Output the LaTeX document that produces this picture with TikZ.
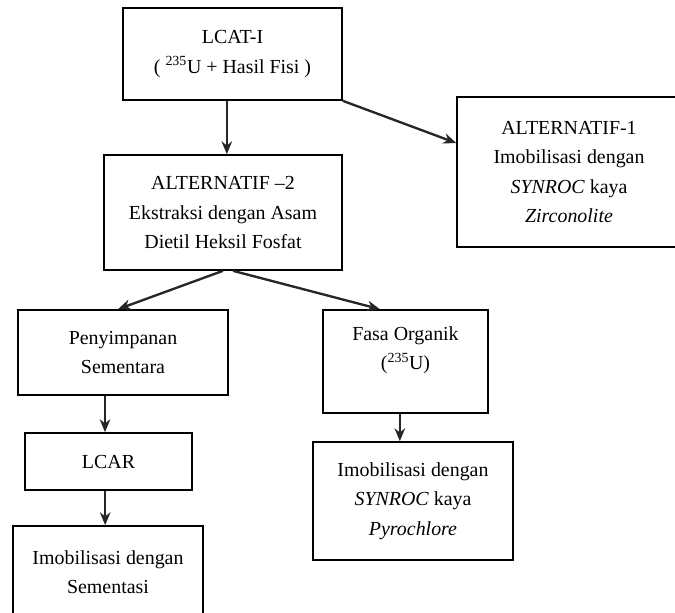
\documentclass[tikz,border=0pt]{standalone}
\usepackage{fontspec}
\setmainfont{Liberation Serif}
\usetikzlibrary{arrows.meta}

\begin{document}
\begin{tikzpicture}[x=0.03cm, y=-0.03cm,
        kotak/.style={draw, line width=1.4pt, align=center, inner sep=2pt,
            font=\fontsize{17}{25}\selectfont},
        panah/.style={-{Stealth[length=11pt, width=9pt]}, line width=2pt, black!85}]
        \useasboundingbox (0, 0) rectangle (675, 612);

        \node (lcat) at (232.5, 54) [kotak, minimum width=6.57cm, minimum height=2.76cm] {LCAT-I\\( \textsuperscript{235}U + Hasil Fisi )};
        \node (alt1) at (569, 172) [kotak, minimum width=6.72cm, minimum height=4.5cm] {ALTERNATIF-1\\Imobilisasi dengan\\\textit{SYNROC} kaya\\\textit{Zirconolite}};
        \node (alt2) at (223, 212.5) [kotak, minimum width=7.14cm, minimum height=3.45cm] {ALTERNATIF --2\\Ekstraksi dengan Asam\\Dietil Heksil Fosfat};

        \node (peny) at (123, 352.5) [kotak, minimum width=6.3cm, minimum height=2.55cm] {Penyimpanan\\Sementara};
        \node (fasa) at (405.5, 361.5) [kotak, minimum width=4.95cm, minimum height=3.09cm, text depth=0.8cm] {Fasa Organik\\(\textsuperscript{235}U)};
        \node (lcar) at (108.5, 461.5) [kotak, minimum width=5.01cm, minimum height=1.71cm] {LCAR};
        \node (imsem) at (108, 572) [kotak, minimum width=5.7cm, minimum height=2.76cm] {Imobilisasi dengan\\Sementasi};
        \node (pyro) at (413, 501) [kotak, minimum width=6cm, minimum height=3.54cm] {Imobilisasi dengan\\\textit{SYNROC} kaya\\\textit{Pyrochlore}};

        \draw[panah] ([xshift=-0.17cm]lcat.south) -- ([xshift=-0.17cm]lcat.south |- alt2.north);
        \draw[panah] (lcat.south east) -- ([yshift=0.87cm]alt1.west);
        \draw[panah] (alt2.south) -- ([xshift=-0.15cm]peny.north);
        \draw[panah] ([xshift=0.3cm]alt2.south) -- ([xshift=-0.77cm]fasa.north);
        \draw[panah] ([xshift=-0.54cm]peny.south) -- ([xshift=-0.54cm]peny.south |- lcar.north);
        \draw[panah] ([xshift=-0.1cm]lcar.south) -- ([xshift=-0.1cm]lcar.south |- imsem.north);
        \draw[panah] ([xshift=-0.17cm]fasa.south) -- ([xshift=-0.17cm]fasa.south |- pyro.north);
    \end{tikzpicture}
\end{document}
